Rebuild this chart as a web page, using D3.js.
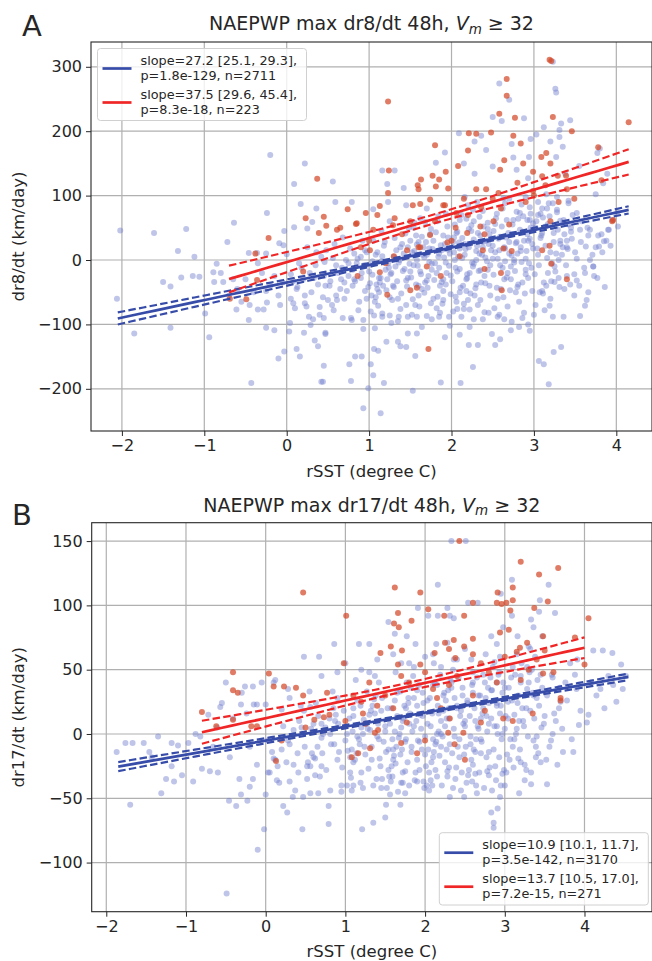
<!DOCTYPE html>
<html>
<head>
<meta charset="utf-8">
<style>
  body { margin: 0; background: #fff; }
  svg text { font-family: "DejaVu Sans", sans-serif; fill: #262626; }
</style>
</head>
<body>
<svg id="chart" width="652" height="961"></svg>
<script src="https://cdn.jsdelivr.net/npm/d3@7"></script>
<script>
// ---- data ----
const xTicksA = [-2, -1, 0, 1, 2, 3, 4]
const yTicksA = [-200, -100, 0, 100, 200, 300]
const xTicksB = [-2, -1, 0, 1, 2, 3, 4]
const yTicksB = [-100, -50, 0, 50, 100, 150]

// fits: [intercept, slope], x range, CI shape [h0, k, xmean]
const fitBlueA = [-35, 27.2], rangeBlueA = [-2.05, 4.15], ciBlueA = [2.2, 2.3, 1.9]
const fitRedA = [-3.3, 37.5], rangeRedA = [-0.7, 4.15], ciRedA = [7, 7.8, 1.8]
const fitBlueB = [-5.2, 10.9], rangeBlueB = [-1.85, 4.55], ciBlueB = [1, 0.9, 1.9]
const fitRedB = [12.3, 13.7], rangeRedB = [-0.8, 4.0], ciRedB = [3, 3.3, 1.75]

const legendA = [
  ["slope=27.2 [25.1, 29.3],", "p=1.8e-129, n=2711"],
  ["slope=37.5 [29.6, 45.4],", "p=8.3e-18, n=223"]
]
const legendB = [
  ["slope=10.9 [10.1, 11.7],", "p=3.5e-142, n=3170"],
  ["slope=13.7 [10.5, 17.0],", "p=7.2e-15, n=271"]
]

const blueA = [
  [-0.2,163],[0.22,150],[0.09,118],[0.17,87],[0.36,80],[-0.24,73],[-0.64,58],[-1.22,48],[-1.61,42],[-2.02,46],[0.09,51],[-0.03,45],[0.25,49],[0.31,59],
  [-2.06,-60],[-1.32,14],[-1.12,5],[-1.5,-34],[-1.41,-41],[-1.28,-27],[-1.14,-25],[-1.06,-26],[-0.99,-83],[-1.41,-105],[-1.85,-114],[-0.94,-120],[-0.72,28],[-0.85,-6],[-0.89,-19],[-0.8,-20],[-0.88,-34],[-0.77,-34],[-0.61,-77],[-0.46,-93],[-0.46,11],[-0.36,11],[-0.25,10],[-0.09,26],[-0.04,23],[0.0,9],[-0.25,-105],[-0.15,-109],[-0.1,-153],[-0.03,-142],[0.03,-111],[0.12,-138],[0.16,-150],[0.29,-101],[0.21,-113],[0.34,-125],[0.38,-134],[0.45,-164],[0.42,-189],[-0.43,-191],[0.32,-92],[0.47,-115],[-0.08,-70],[0.04,-98],[0.08,-67],[-0.24,-66],[-0.35,-77],[-0.28,-77],[0.22,-67],[0.4,-73],
  [-0.6,-45],[-0.5,-30],[-0.4,-50],[-0.3,-20],[-0.2,-40],[-0.1,-55],[-0.55,-65],[-0.15,-25],[-0.35,-5],[-0.05,-35],[-0.7,-55],[-0.65,-30],[-0.45,-70],[-0.25,-48],[0.05,-22],
  [3.23,308],[3.26,266],[3.27,260],[2.58,274],[2.7,249],[2.5,222],[2.61,216],[2.88,220],[3.33,212],[3.44,217],[3.31,202],[3.31,191],[3.12,206],[3.03,195],[3.8,173],[3.77,166],[0.56,122],[1.16,139],[1.31,139],[1.22,118],[1.42,112],[1.81,151],[1.92,167],[2.09,197],[2.28,184],[2.36,193],[2.15,150],[2.28,134],[2.42,171],[2.5,145],[2.73,180],[2.96,188],[2.75,159],[2.94,160],[3.2,184],[3.27,160],[3.35,176],[2.79,140],[2.93,127],[3.38,134],[3.55,146],[3.84,119],[3.75,102],[3.89,134],[0.79,90],[0.59,90],[1.05,79],[1.23,90],[1.45,85],[2.16,98],[2.31,90],[3.56,47],[3.68,47],[3.9,47],[4.01,73],[3.95,62],[3.32,61],[3.42,88],[3.52,73],[2.83,73],[2.92,62],[3.05,70],[3.16,80],[3.23,88],[3.28,98],
  [0.93,-230],[1.14,-238],[0.99,-199],[1.18,-191],[1.53,-203],[1.87,-190],[2.11,-191],[3.18,-193],[2.26,-166],[0.78,-188],[0.44,-189],[0.76,-162],[0.83,-150],[0.91,-150],[1.02,-162],[1.05,-179],[1.06,-138],[1.11,-141],[1.35,-127],[1.38,-134],[1.45,-135],[1.56,-149],[1.92,-120],[2.1,-116],[2.21,-132],[2.32,-132],[2.53,-132],[2.59,-123],[2.49,-115],[3.06,-157],[3.12,-162],[3.24,-143],[3.33,-135],[0.47,-113],[0.93,-107],[1.07,-106],[1.21,-127],[1.47,-114],[1.58,-114],[1.64,-104],[1.98,-102],[2.22,-104],[2.72,-109],[2.82,-104],[2.93,-100],[2.95,-110],[3.36,-88],[3.56,-87],[3.64,-62],[3.66,-50],[3.49,-55],[3.19,-71],[3.1,-48],[3.62,-71],[3.72,-10],[3.73,-25],[3.79,21],[3.85,29],[3.63,21],[3.91,47],[3.78,38],[3.4,-25],[3.37,-45],[3.52,-32],[2.86,-90],[2.73,-96],[2.64,-92],[2.56,-88],[2.4,-81],[2.27,-92],[2.15,-76],[2.07,-76],[1.97,-88],[1.86,-82],[1.7,-87],[1.58,-88],[1.47,-88],[1.36,-88],[1.25,-86],[1.16,-88],[1.06,-86],[0.93,-93],[0.79,-93],[0.68,-90],[0.57,-78],[0.45,-90],
  [0.05,-60],[0.12,-45],[0.2,-30],[0.28,-20],[0.35,-8],[0.42,5],[0.48,15],[0.1,-75],[0.3,-50],[0.38,-38],[0.45,-25],[0.15,-5],[0.25,20],[0.4,-85],[0.22,-55],[0.47,-40],
  [0.55,-70],[0.6,-55],[0.65,-45],[0.7,-35],[0.75,-25],[0.8,-15],[0.85,-5],[0.9,5],[0.95,15],[0.58,25],[0.68,35],[0.78,-90],[0.88,-65],[0.52,-40],[0.62,-20],[0.72,0],[0.82,10],[0.92,30],[0.97,-60],[0.66,-30],
  [1.02,-80],[1.07,-65],[1.12,-50],[1.17,-40],[1.22,-30],[1.27,-20],[1.32,-10],[1.37,0],[1.42,10],[1.47,20],[1.05,30],[1.15,45],[1.25,60],[1.35,-95],[1.45,-70],[1.1,-45],[1.2,-15],[1.3,5],[1.4,25],[1.48,50],[1.03,-55],[1.13,-35],[1.23,-5],[1.33,15],
  [1.52,-85],[1.56,-70],[1.6,-55],[1.64,-45],[1.68,-35],[1.72,-25],[1.76,-15],[1.8,-5],[1.84,5],[1.88,15],[1.92,25],[1.96,35],[1.54,50],[1.62,65],[1.7,80],[1.78,-60],[1.86,-40],[1.94,-20],[1.58,0],[1.66,20],[1.74,40],[1.82,-75],[1.9,-30],[1.98,10],[1.5,30],
  [2.02,-80],[2.06,-65],[2.1,-50],[2.14,-40],[2.18,-30],[2.22,-20],[2.26,-10],[2.3,0],[2.34,10],[2.38,20],[2.42,30],[2.46,40],[2.04,55],[2.12,70],[2.2,85],[2.28,-55],[2.36,-35],[2.44,-15],[2.08,5],[2.16,25],[2.24,45],[2.32,-70],[2.4,-25],[2.48,15],[2.03,35],[2.27,60],
  [2.52,-75],[2.56,-60],[2.6,-45],[2.64,-30],[2.68,-20],[2.72,-10],[2.76,0],[2.8,10],[2.84,20],[2.88,30],[2.92,40],[2.96,50],[2.54,65],[2.62,80],[2.7,95],[2.78,-50],[2.86,-35],[2.94,-5],[2.58,15],[2.66,35],[2.74,55],[2.82,-65],[2.9,-15],[2.98,25],[2.51,45],[2.79,75],
  [3.02,-70],[3.07,-50],[3.12,-35],[3.17,-20],[3.22,-5],[3.27,10],[3.32,25],[3.37,40],[3.42,55],[3.47,70],[3.05,90],[3.15,-40],[3.25,-10],[3.35,20],[3.45,50],[3.1,80],[3.2,-60],[3.3,0],[3.4,30],[3.03,60],
  [3.55,-40],[3.62,-20],[3.68,0],[3.75,20],[3.82,40],[3.58,60],[3.72,-10],[3.88,30],[3.65,50],
  [0.6,-8],[0.9,-28],[1.1,12],[1.3,-42],[1.5,-18],[1.7,8],[1.9,-48],[2.1,18],[2.3,-38],[2.5,2],[2.7,28],[2.9,-22],[3.1,42],[3.3,-28],[3.5,12],[1.15,-2],[1.45,-32],[1.75,48],[2.05,-12],[2.35,38],[2.65,-2],[2.95,62],[1.6,28],[2.2,-62],[2.8,-42],[1.0,-18],[0.8,-40],[1.25,-58],[1.85,-88],[2.45,-82],[3.0,-85]
]

// second and third passes over the dense core of panel A
const blueCoreA = [
  [0.53,-33],[0.61,-62],[0.67,-12],[0.73,-48],[0.77,18],[0.83,-33],[0.87,-78],[0.94,-8],[0.99,-42],[0.56,3],
  [1.04,-23],[1.08,8],[1.11,-71],[1.14,-28],[1.18,22],[1.21,-47],[1.24,-12],[1.28,-62],[1.31,34],[1.34,-33],[1.36,-4],[1.39,-52],[1.41,-17],[1.44,41],[1.46,-41],[1.49,-6],[1.16,-83],[1.27,-98],[1.38,-76],[1.09,-38],
  [1.51,-27],[1.53,-61],[1.55,14],[1.57,-38],[1.59,-9],[1.61,-72],[1.63,-22],[1.65,8],[1.67,-51],[1.69,28],[1.71,-43],[1.73,-3],[1.75,-67],[1.77,17],[1.79,-31],[1.81,43],[1.83,-57],[1.85,-12],[1.87,23],[1.89,-68],[1.91,4],[1.93,-38],[1.95,52],[1.97,-9],[1.99,-53],[1.57,38],[1.68,59],[1.84,68],[1.93,72],[1.76,-92],
  [2.01,-33],[2.03,12],[2.05,-57],[2.07,-18],[2.09,27],[2.11,-43],[2.13,3],[2.15,-68],[2.17,17],[2.19,-28],[2.21,48],[2.23,-52],[2.25,-4],[2.27,32],[2.29,-44],[2.31,22],[2.33,-17],[2.35,-62],[2.37,8],[2.39,52],[2.41,-36],[2.43,-2],[2.45,25],[2.47,-55],[2.49,33],[2.06,42],[2.18,64],[2.26,78],[2.34,67],[2.44,58],[2.12,-88],[2.38,-92],[2.22,-77],
  [2.51,-23],[2.53,12],[2.55,-43],[2.57,33],[2.59,-8],[2.61,52],[2.63,-58],[2.65,18],[2.67,-27],[2.69,42],[2.71,-47],[2.73,7],[2.75,62],[2.77,-17],[2.79,28],[2.81,-38],[2.83,47],[2.85,-3],[2.87,68],[2.89,-52],[2.91,14],[2.93,-28],[2.95,33],[2.97,-12],[2.99,57],[2.55,72],[2.65,88],[2.85,86],[2.95,82],[2.68,-72],[2.88,-82],[2.58,-85],
  [3.01,-22],[3.04,18],[3.06,-8],[3.09,38],[3.11,-52],[3.14,52],[3.16,3],[3.19,68],[3.21,-33],[3.24,28],[3.26,-18],[3.29,47],[3.31,-42],[3.34,8],[3.36,62],[3.39,-8],[3.41,17],[3.44,-38],[3.46,33],[3.49,-22],[3.08,72],[3.18,88],[3.28,78],[3.13,-78],[3.23,-88],
  [3.52,2],[3.57,28],[3.61,-12],[3.66,38],[3.71,8],[3.77,-28],[3.83,12],[3.86,-42],[3.93,22],[4.02,52],
  [0.13,-42],[0.24,-72],[0.33,-28],[0.44,-58],[0.36,12],[0.18,-12],[0.5,-62],[0.27,-88],[0.46,-3],[0.08,-33],
  [0.82,-30],[0.86,2],[0.91,-20],[0.97,12],[1.01,-36],[1.04,-2],[1.12,-28],[1.16,6],[1.19,28],[1.26,-22],[1.29,-40],[1.33,2],[1.38,20],[1.43,-14],[1.47,-28],[1.52,12],[1.54,-8],[1.58,24],[1.62,-18],[1.64,36],[1.67,4],[1.7,-32],[1.73,18],[1.76,-6],[1.78,30],[1.82,-20],[1.85,10],[1.88,-34],[1.9,38],[1.93,-4],[1.96,16],[1.99,-24],
  [2.02,28],[2.04,0],[2.07,44],[2.1,-14],[2.13,34],[2.16,8],[2.19,-22],[2.21,20],[2.24,54],[2.27,-6],[2.3,14],[2.32,42],[2.35,-16],[2.38,28],[2.41,4],[2.44,48],[2.47,-8],[2.5,22],[2.53,56],[2.56,2],[2.59,36],[2.62,-12],[2.64,20],[2.67,62],[2.7,10],[2.73,40],[2.76,-4],[2.78,26],[2.81,64],[2.84,14],[2.87,44],[2.9,2],[2.93,30],[2.96,72],[2.99,18],
  [3.02,50],[3.05,8],[3.08,34],[3.11,66],[3.14,22],[3.17,56],[3.2,12],[3.24,42],[3.28,74],[3.32,30],[3.36,58],[3.4,20],[3.45,44],
  [1.08,-58],[1.35,-60],[1.6,-40],[1.9,-62],[2.18,-48],[2.46,-40],[2.72,-30],[2.98,-48],[3.25,-34],[1.55,58],[1.83,60],[2.1,62],[2.38,76],[2.63,96],[2.9,98],[3.15,102],[3.42,92],[0.7,-60],[0.75,-5],[0.95,-48]
]

const redA = [
  [0.37,126],[0.23,65],[0.45,67],[0.48,53],[0.39,42],[-0.22,34],[-0.69,-60],[-0.49,-61],[-0.38,10],[-0.36,-31],[0.2,-18],
  [3.19,311],[3.21,309],[2.67,281],[2.67,255],[1.23,246],[2.58,227],[2.77,221],[3.23,222],[3.46,200],[4.15,214],[2.21,197],[2.3,196],[2.48,198],[2.75,193],[2.84,181],[1.8,178],[2.2,170],[2.08,146],[1.93,137],[1.77,131],[1.63,125],[1.24,139],[1.23,104],[1.59,116],[1.6,110],[1.85,125],[1.96,111],[1.81,114],[2.59,140],[2.64,155],[2.87,150],[3.09,160],[3.2,150],[3.15,166],[2.99,137],[3.39,131],[3.78,175],[3.82,124],[3.96,62],[0.74,79],[1.13,84],[0.96,73],[0.84,56],[1.05,47],[1.31,65],[1.53,85],[1.62,87],[1.74,94],[1.92,85],[2.06,73],[2.36,82],[2.42,110],[2.57,104],[2.99,107],[3.14,116],[3.29,131],[3.49,95],[0.61,47],
  [1.72,-138],[1.22,-54],[1.5,-47],[1.58,-43],[1.87,-25],[1.13,-19],[0.86,-25],[2.61,-47],[2.4,-14],[3.21,-6],[3.4,-30],[3.1,15],[3.19,22],[3.95,60],[2.1,6],[2.38,15],[2.63,18],[2.73,14],[1.62,20],[1.46,15],[1.3,6],[1.01,15],[1.95,27],[2.05,50],[2.35,52],[2.51,60],[2.19,42],[1.74,39],[1.29,54],[0.65,50],[0.85,57],
  [1.0,30],[1.4,40],[1.8,60],[2.2,70],[2.6,80],[3.0,100],[3.3,90],[2.4,40],[2.0,30],[1.6,20],[2.8,120],[3.1,130],[2.5,95],[1.9,85],[0.9,20],[1.2,-5],[2.7,55],[3.4,110],
  [1.1,70],[1.5,60],[2.3,110],[2.9,90],[3.2,60],[2.15,95],[1.7,-10],[2.6,-20]
]

const blueB = [
  [0.48,60],[0.67,60],[0.12,42],[0.1,40],[-0.5,40],[-0.16,37],[-0.26,37],[-0.55,24],[-0.72,15],[-0.05,40],[0.28,35],[0.55,33],[0.3,28],[-0.3,32],[-0.31,23],[-0.11,23],[0,23],[-0.57,21],
  [-1.87,-14],[-1.76,-7],[-1.67,-7],[-1.53,-7],[-1.35,-2],[-1.46,-14],[-1.43,-18],[-1.7,-55],[-1.31,-46],[-1.25,-35],[-1.15,-37],[-1.05,-32],[-0.91,-37],[-1.18,-25],[-1.18,-7],[-1.1,-9],[-0.97,-7],[-0.88,0],[-0.8,-27],[-0.7,-29],[-0.6,-30],[-0.46,-52],[-0.37,-56],[-0.31,-47],[-0.23,-52],[-0.33,-35],[-0.16,-35],[-0.2,-41],[-0.49,-124],[-0.1,-90],[-0.02,-74],[0,-47],[0.22,-56],[0.27,-61],[0.46,-74],[0.47,-49],[0.34,-49],[0.79,-56],[0.79,-70],[0.03,-30],[0.14,-36],[0.3,-37],[0.56,-46],[0.66,-46],[-0.82,-2],[-0.66,-10],[-0.45,-18],[-0.2,-10],[-0.11,-24],[0.1,-19],[0.35,-24],[0.52,-25],[0.68,-33],[0.62,-19],[-0.61,5],[-0.41,12],[-0.24,16],[-0.15,23],[0.2,19],[0.56,21],
  [1.21,-74],[1.35,-69],[1.5,-65],[1.51,-55],[1.69,-55],[1.56,-47],[1.72,-38],[1.9,-37],[2.31,-49],[2.49,-49],[2.64,-40],[2.84,-44],[2.94,-49],[2.91,-58],[2.83,-61],[2.86,-69],[2.86,-73],[2.97,-31],[3.18,-46],[3.33,-39],[3.53,-39],[3.73,-14],[3.86,-14],[3.93,7],[4.03,9],[3.39,-18],[3.27,-28],[3.17,-19],[2.28,-29],[2.15,-33],[1.98,-37],[1.35,-40],[1.22,-42],[1.08,-44],[0.95,-45],[0.81,-44],[1.59,-33],[1.75,-29],[2.63,-31],[2.78,-29],[2.59,-37],[2.09,-40],
  [2.33,150],[2.51,150],[2.16,116],[3.09,120],[3.55,116],[3.44,104],[3.63,94],[2.95,109],[2.66,102],[2.54,102],[2.28,98],[2.16,92],[2.31,92],[2.36,90],[2.04,92],[1.91,98],[3.09,92],[2.98,83],[3.33,89],[3.43,95],[3.36,83],[3.47,76],[4.11,65],[4.23,65],[4.35,63],[4.46,54],[4.48,35],[4.2,35],[0.86,70],[1.17,70],[1.3,70],[1.54,87],[1.62,78],[1.77,76],[1.88,70],[2.14,70],[2.28,71],[2.83,76],[3.16,76],[3.91,58],
  [1.0,55],[1.2,50],[1.4,58],[1.6,62],[1.8,55],[2.0,60],[2.2,52],[2.4,58],[0.7,45],[0.9,48],
  [0.05,-30],[0.12,-20],[0.2,-12],[0.28,-5],[0.35,3],[0.42,10],[0.48,18],[0.15,-25],[0.3,-8],[0.45,5],
  [0.52,-35],[0.56,-25],[0.6,-18],[0.65,-10],[0.7,-3],[0.75,5],[0.8,12],[0.85,20],[0.9,28],[0.95,-40],[0.58,-15],[0.72,0],[0.88,15],
  [1.02,-40],[1.06,-30],[1.1,-22],[1.14,-15],[1.18,-8],[1.22,0],[1.26,8],[1.3,15],[1.34,22],[1.38,30],[1.42,40],[1.46,-35],[1.08,-12],[1.2,5],[1.32,18],[1.44,-25],
  [1.52,-42],[1.55,-33],[1.58,-25],[1.61,-17],[1.64,-10],[1.67,-3],[1.7,5],[1.73,12],[1.76,20],[1.79,28],[1.82,36],[1.85,45],[1.88,-30],[1.91,-5],[1.94,15],[1.97,32],[1.6,-20],[1.8,8],
  [2.02,-40],[2.05,-30],[2.08,-22],[2.11,-14],[2.14,-6],[2.17,2],[2.2,10],[2.23,18],[2.26,26],[2.29,34],[2.32,42],[2.35,50],[2.38,-35],[2.41,-10],[2.44,14],[2.47,30],[2.1,-18],[2.25,6],[2.4,22],[2.15,38],
  [2.52,-38],[2.55,-28],[2.58,-20],[2.61,-12],[2.64,-4],[2.67,4],[2.7,12],[2.73,20],[2.76,28],[2.79,36],[2.82,44],[2.85,52],[2.88,-25],[2.91,0],[2.94,16],[2.97,32],[2.6,48],[2.7,-15],[2.8,8],[2.9,24],
  [3.02,-30],[3.06,-20],[3.1,-10],[3.14,0],[3.18,10],[3.22,20],[3.26,30],[3.3,40],[3.34,50],[3.38,60],[3.42,-15],[3.46,5],[3.04,25],[3.2,45],[3.36,-5],[3.12,15],[3.28,35],
  [3.52,-20],[3.58,-5],[3.64,10],[3.7,25],[3.76,40],[3.82,55],[3.6,0],[3.68,20],[3.9,35],
  [4.05,15],[4.15,30],[4.3,45],[4.4,25],
  [0.4,-15],[0.7,8],[1.0,-5],[1.2,-30],[1.5,2],[1.7,-38],[1.9,22],[2.0,-2],[2.3,-26],[2.5,10],[2.6,32],[2.8,-32],[3.0,4],[3.2,-22],[3.4,28],[3.6,44],[1.4,-2],[2.2,-10],[2.9,40],[3.1,52],[0.9,-20],[1.1,20],[1.6,-12],[2.45,-44],[3.0,-40]
]

// second and third passes over the dense core of panel B
const blueCoreB = [
  [0.53,-22],[0.57,4],[0.62,-32],[0.66,14],[0.71,-15],[0.76,-28],[0.81,0],[0.86,-8],[0.91,8],[0.96,-26],[0.63,24],[0.84,33],
  [1.03,-13],[1.05,12],[1.07,-34],[1.09,2],[1.12,-20],[1.15,26],[1.17,-4],[1.19,-38],[1.23,11],[1.25,-16],[1.27,33],[1.29,-27],[1.31,3],[1.33,-10],[1.36,27],[1.39,-35],[1.41,8],[1.43,-19],[1.45,18],[1.48,-6],[1.13,42],[1.37,45],
  [1.51,-14],[1.53,20],[1.54,-28],[1.56,8],[1.57,-37],[1.59,-4],[1.62,26],[1.63,-23],[1.65,14],[1.66,-45],[1.68,0],[1.69,33],[1.71,-12],[1.72,-30],[1.74,22],[1.75,-6],[1.77,40],[1.78,-22],[1.8,-40],[1.81,16],[1.83,-14],[1.84,2],[1.86,28],[1.87,-36],[1.89,10],[1.9,-20],[1.92,38],[1.93,-28],[1.95,4],[1.96,-12],[1.98,24],[1.99,-42],[1.63,48],[1.86,52],
  [2.01,-25],[2.03,8],[2.04,-12],[2.06,28],[2.07,-36],[2.09,16],[2.1,-4],[2.12,40],[2.13,-28],[2.15,0],[2.16,22],[2.18,-17],[2.19,46],[2.21,-40],[2.22,-2],[2.24,32],[2.25,-22],[2.27,12],[2.28,-33],[2.3,20],[2.31,-8],[2.33,36],[2.34,-15],[2.36,4],[2.37,28],[2.39,-26],[2.42,44],[2.43,-4],[2.45,18],[2.46,-30],[2.48,8],[2.49,-16],[2.11,55],[2.36,58],
  [2.51,-10],[2.53,26],[2.54,-32],[2.56,14],[2.57,-2],[2.59,38],[2.6,-24],[2.62,20],[2.63,-14],[2.65,44],[2.66,6],[2.68,-30],[2.69,30],[2.71,-6],[2.72,16],[2.74,-42],[2.75,40],[2.77,-18],[2.78,2],[2.8,24],[2.81,-26],[2.83,12],[2.84,34],[2.86,-12],[2.87,56],[2.89,-36],[2.9,6],[2.92,46],[2.93,-18],[2.95,22],[2.96,-4],[2.98,40],[2.99,-28],[2.58,58],[2.76,62],[2.94,60],
  [3.01,14],[3.03,-16],[3.05,36],[3.07,-4],[3.09,26],[3.11,-26],[3.13,46],[3.15,4],[3.17,30],[3.19,-12],[3.21,55],[3.23,10],[3.25,-24],[3.27,20],[3.29,-2],[3.31,48],[3.33,-30],[3.35,32],[3.37,12],[3.39,-10],[3.41,42],[3.43,22],[3.45,-22],[3.47,36],[3.49,8],[3.15,62],[3.32,66],
  [3.53,30],[3.56,-10],[3.59,46],[3.62,16],[3.66,-24],[3.69,36],[3.72,4],[3.78,26],[3.84,-4],[3.88,46],[3.95,18],[4.08,40],[4.25,20],[4.36,38],[4.52,45],
  [0.08,-14],[0.17,-38],[0.26,-22],[0.33,-2],[0.41,-30],[0.44,22],[0.22,6],[0.37,-44],[0.03,-5],[0.49,-10],
  [0.82,-8],[0.87,10],[0.92,-14],[0.98,18],[1.02,0],[1.06,-18],[1.1,14],[1.15,-2],[1.19,22],[1.24,-10],[1.28,4],[1.33,-20],[1.37,16],[1.42,-4],[1.46,28],[1.5,6],[1.54,-12],[1.58,20],[1.62,2],[1.65,32],[1.69,-16],[1.72,10],[1.76,-4],[1.79,24],[1.83,-10],[1.86,6],[1.9,34],[1.93,-6],[1.97,14],
  [2.0,-16],[2.03,26],[2.07,6],[2.1,38],[2.13,-8],[2.17,16],[2.2,0],[2.23,30],[2.27,-12],[2.3,12],[2.33,40],[2.37,-2],[2.4,20],[2.43,-18],[2.47,36],[2.5,6],[2.53,24],[2.57,-8],[2.6,40],[2.63,10],[2.67,30],[2.7,-4],[2.73,46],[2.77,14],[2.8,-14],[2.83,34],[2.87,6],[2.9,22],[2.93,48],[2.97,0],
  [3.0,36],[3.04,12],[3.08,44],[3.12,-4],[3.16,24],[3.2,40],[3.24,6],[3.28,52],[3.32,18],[3.36,30],[3.4,-2],[3.45,46],[3.5,14],
  [1.1,-40],[1.45,-42],[1.75,-46],[2.05,-44],[2.35,-42],[2.65,-46],[2.95,-40],[3.25,-36],[1.3,48],[1.7,55],[2.1,62],[2.5,66],[2.9,70],[3.3,68],[0.7,-25],[0.6,8]
]

const redB = [
  [0.47,110],[-0.41,48],[0.04,47],[0.23,37],[0.38,36],[-0.41,34],[-0.35,32],[0.1,37],[-0.8,17],[0.47,30],[0.77,32],
  [-0.62,6],[-0.41,11],[-0.11,6],[0.13,-21],[-0.18,6],[0.73,13],[0.61,11],
  [1.08,-18],[1.16,-15],[1.31,-11],[1.7,-7],[2.37,-8],[2.0,-5],[2.29,1],[2.48,1],[2.7,9],[2.98,12],[3.1,10],[3.35,16],[3.7,26],[1.22,16],[1.37,1],[1.77,9],[2.31,12],[1.41,3],
  [2.43,150],[3.2,134],[3.67,129],[3.43,124],[3.1,114],[2.91,110],[3.1,104],[2.9,102],[2.96,101],[3.02,102],[3.54,103],[3.37,98],[3.07,96],[1.62,114],[1.94,110],[2.04,97],[2.24,92],[2.49,92],[2.6,102],[1.66,94],[1.61,86],[1.67,83],[1.83,88],[1.01,92],[2.94,79],[3.05,81],[2.6,74],[2.36,73],[2.25,71],[2.49,68],[4.05,90],[3.88,75],[4.0,54],[3.48,76],[3.28,71],[3.19,67],[3.15,64],[1.57,68],[1.71,65],[1.44,63],[0.98,55],[1.66,54],[1.94,54],[2.12,63],[2.3,66],[2.38,59],[3.61,48],[3.7,28],[3.48,47],
  [0.5,5],[0.8,15],[1.2,25],[1.5,30],[1.8,40],[2.1,35],[2.4,45],[2.7,55],[3.0,60],[3.3,50],[1.0,10],[1.6,20],[2.2,20],[2.6,30],[2.9,40],[3.5,65],[1.3,40],[1.9,-15],[2.5,-20],[0.2,-5],
  [1.1,30],[1.4,22],[1.7,45],[2.0,48],[2.3,38],[2.6,62],[2.8,48],[3.2,42],[3.4,58],[1.25,8],[2.15,28],[2.75,18]
]

// ---- drawing ----
const svg = d3.select("#chart")
const blueLine = "#374ca8", redLine = "#f02626"
const bluePt = "#6e7acd", redPt = "#d44a2a"

function drawPanel(p) {
  let x = d3.scaleLinear().domain(p.xdom).range([p.left, p.right])
  let y = d3.scaleLinear().domain(p.ydom).range([p.bottom, p.top])
  let g = svg.append("g")

  let clipId = "clip" + p.letter
  g.append("clipPath").attr("id", clipId)
    .append("rect").attr("x", p.left).attr("y", p.top)
    .attr("width", p.right - p.left).attr("height", p.bottom - p.top)

  // grid
  g.append("g").selectAll("line").data(p.xticks).enter().append("line")
    .attr("x1", d => x(d)).attr("x2", d => x(d)).attr("y1", p.top).attr("y2", p.bottom)
    .attr("stroke", "#b0b0b0").attr("stroke-width", 1.2)
  g.append("g").selectAll("line").data(p.yticks).enter().append("line")
    .attr("y1", d => y(d)).attr("y2", d => y(d)).attr("x1", p.left).attr("x2", p.right)
    .attr("stroke", "#b0b0b0").attr("stroke-width", 1.2)

  let plot = g.append("g").attr("clip-path", "url(#" + clipId + ")")

  plot.append("g").selectAll("circle").data(p.blue).enter().append("circle")
    .attr("cx", d => x(d[0])).attr("cy", d => y(d[1])).attr("r", 3)
    .attr("fill", bluePt).attr("fill-opacity", 0.44)
  plot.append("g").selectAll("circle").data(p.red).enter().append("circle")
    .attr("cx", d => x(d[0])).attr("cy", d => y(d[1])).attr("r", 3)
    .attr("fill", redPt).attr("fill-opacity", 0.72)

  // regression line and confidence band
  function fitLines(fit, range, ci, color) {
    let xs = d3.range(0, 41).map(i => range[0] + (range[1] - range[0]) * i / 40)
    let hw = v => Math.sqrt(ci[0] * ci[0] + ci[1] * ci[1] * (v - ci[2]) * (v - ci[2]))
    let line = d3.line().x(d => x(d[0])).y(d => y(d[1]))
    let mid = xs.map(v => [v, fit[0] + fit[1] * v])
    let up = xs.map(v => [v, fit[0] + fit[1] * v + hw(v)])
    let lo = xs.map(v => [v, fit[0] + fit[1] * v - hw(v)])
    ;[up, lo].forEach(pts => {
      plot.append("path").attr("d", line(pts)).attr("fill", "none")
        .attr("stroke", color).attr("stroke-width", 2.2).attr("stroke-dasharray", "7.5,3.3")
    })
    plot.append("path").attr("d", line(mid)).attr("fill", "none")
      .attr("stroke", color).attr("stroke-width", 2.7)
  }
  fitLines(p.fitBlue, p.rangeBlue, p.ciBlue, blueLine)
  fitLines(p.fitRed, p.rangeRed, p.ciRed, redLine)

  // axes
  let fmt = d => d < 0 ? "\u2212" + Math.abs(d) : d
  let xAxis = d3.axisBottom(x).tickValues(p.xticks).tickSize(5).tickPadding(4).tickFormat(fmt)
  let yAxis = d3.axisLeft(y).tickValues(p.yticks).tickSize(5).tickPadding(4).tickFormat(fmt)
  let gx = g.append("g").attr("transform", "translate(0," + p.bottom + ")").call(xAxis)
  let gy = g.append("g").attr("transform", "translate(" + p.left + ",0)").call(yAxis)
  ;[gx, gy].forEach(a => {
    a.select(".domain").remove()
    a.selectAll(".tick line").attr("stroke", "#262626").attr("stroke-width", 1)
    a.selectAll(".tick text").attr("font-size", 16).attr("fill", "#262626")
      .attr("font-family", "DejaVu Sans")
  })

  // frame
  g.append("rect").attr("x", p.left).attr("y", p.top)
    .attr("width", p.right - p.left).attr("height", p.bottom - p.top)
    .attr("fill", "none").attr("stroke", "#262626").attr("stroke-width", 1.1)

  // labels
  let cx = (p.left + p.right) / 2
  let t = g.append("text").attr("x", cx).attr("y", p.titleY).attr("text-anchor", "middle")
    .attr("font-size", 19)
  t.append("tspan").text(p.title + " ")
  t.append("tspan").attr("font-style", "italic").text("V")
  t.append("tspan").attr("font-style", "italic").attr("font-size", 13.5).attr("dy", 3.8).text("m")
  t.append("tspan").attr("dy", -3.8).text(" \u2265 32")

  g.append("text").attr("x", p.letterX).attr("y", p.letterY).attr("font-size", 29).text(p.letter)

  g.append("text").attr("x", cx).attr("y", p.xlabY).attr("text-anchor", "middle")
    .attr("font-size", 16.5).text("rSST (degree C)")
  g.append("text").attr("transform", "translate(" + p.ylabX + "," + (p.top + p.bottom) / 2 + ") rotate(-90)")
    .attr("text-anchor", "middle").attr("font-size", 16.5).text(p.ylab)

  // legend
  let L = p.legend
  let lg = g.append("g")
  lg.append("rect").attr("x", L.x).attr("y", L.y).attr("width", L.w).attr("height", L.h)
    .attr("rx", 3).attr("fill", "#fff").attr("fill-opacity", 0.8)
    .attr("stroke", "#d0d0d0").attr("stroke-width", 1)
  p.legendText.forEach((lines, i) => {
    let yy = L.y + 20 + i * 34
    lg.append("line").attr("x1", L.x + 5).attr("x2", L.x + 34).attr("y1", yy).attr("y2", yy)
      .attr("stroke", i === 0 ? blueLine : redLine).attr("stroke-width", 2.7)
    lines.forEach((s, j) => {
      lg.append("text").attr("x", L.x + 43).attr("y", yy - 3.5 + j * 14.9)
        .attr("font-size", 12.8).text(s)
    })
  })
}

drawPanel({
  letter: "A", letterX: 22, letterY: 36,
  left: 91, right: 652, top: 42, bottom: 431,
  xdom: [-2.375, 4.433], ydom: [-265.5, 338.5],
  xticks: xTicksA, yticks: yTicksA,
  blue: blueA.concat(blueCoreA), red: redA,
  fitBlue: fitBlueA, rangeBlue: rangeBlueA, ciBlue: ciBlueA,
  fitRed: fitRedA, rangeRed: rangeRedA, ciRed: ciRedA,
  title: "NAEPWP max dr8/dt 48h,", titleY: 30,
  xlabY: 477, ylabX: 24, ylab: "dr8/dt (km/day)",
  legend: { x: 97.5, y: 48.5, w: 209, h: 72 }, legendText: legendA
})

drawPanel({
  letter: "B", letterX: 12, letterY: 525,
  left: 91.7, right: 652, top: 522.7, bottom: 911.7,
  xdom: [-2.183, 4.847], ydom: [-138.2, 164.3],
  xticks: xTicksB, yticks: yTicksB,
  blue: blueB.concat(blueCoreB), red: redB,
  fitBlue: fitBlueB, rangeBlue: rangeBlueB, ciBlue: ciBlueB,
  fitRed: fitRedB, rangeRed: rangeRedB, ciRed: ciRedB,
  title: "NAEPWP max dr17/dt 48h,", titleY: 511.5,
  xlabY: 957, ylabX: 24, ylab: "dr17/dt (km/day)",
  legend: { x: 439.3, y: 832.7, w: 209, h: 72.3 }, legendText: legendB
})
</script>
</body>
</html>
